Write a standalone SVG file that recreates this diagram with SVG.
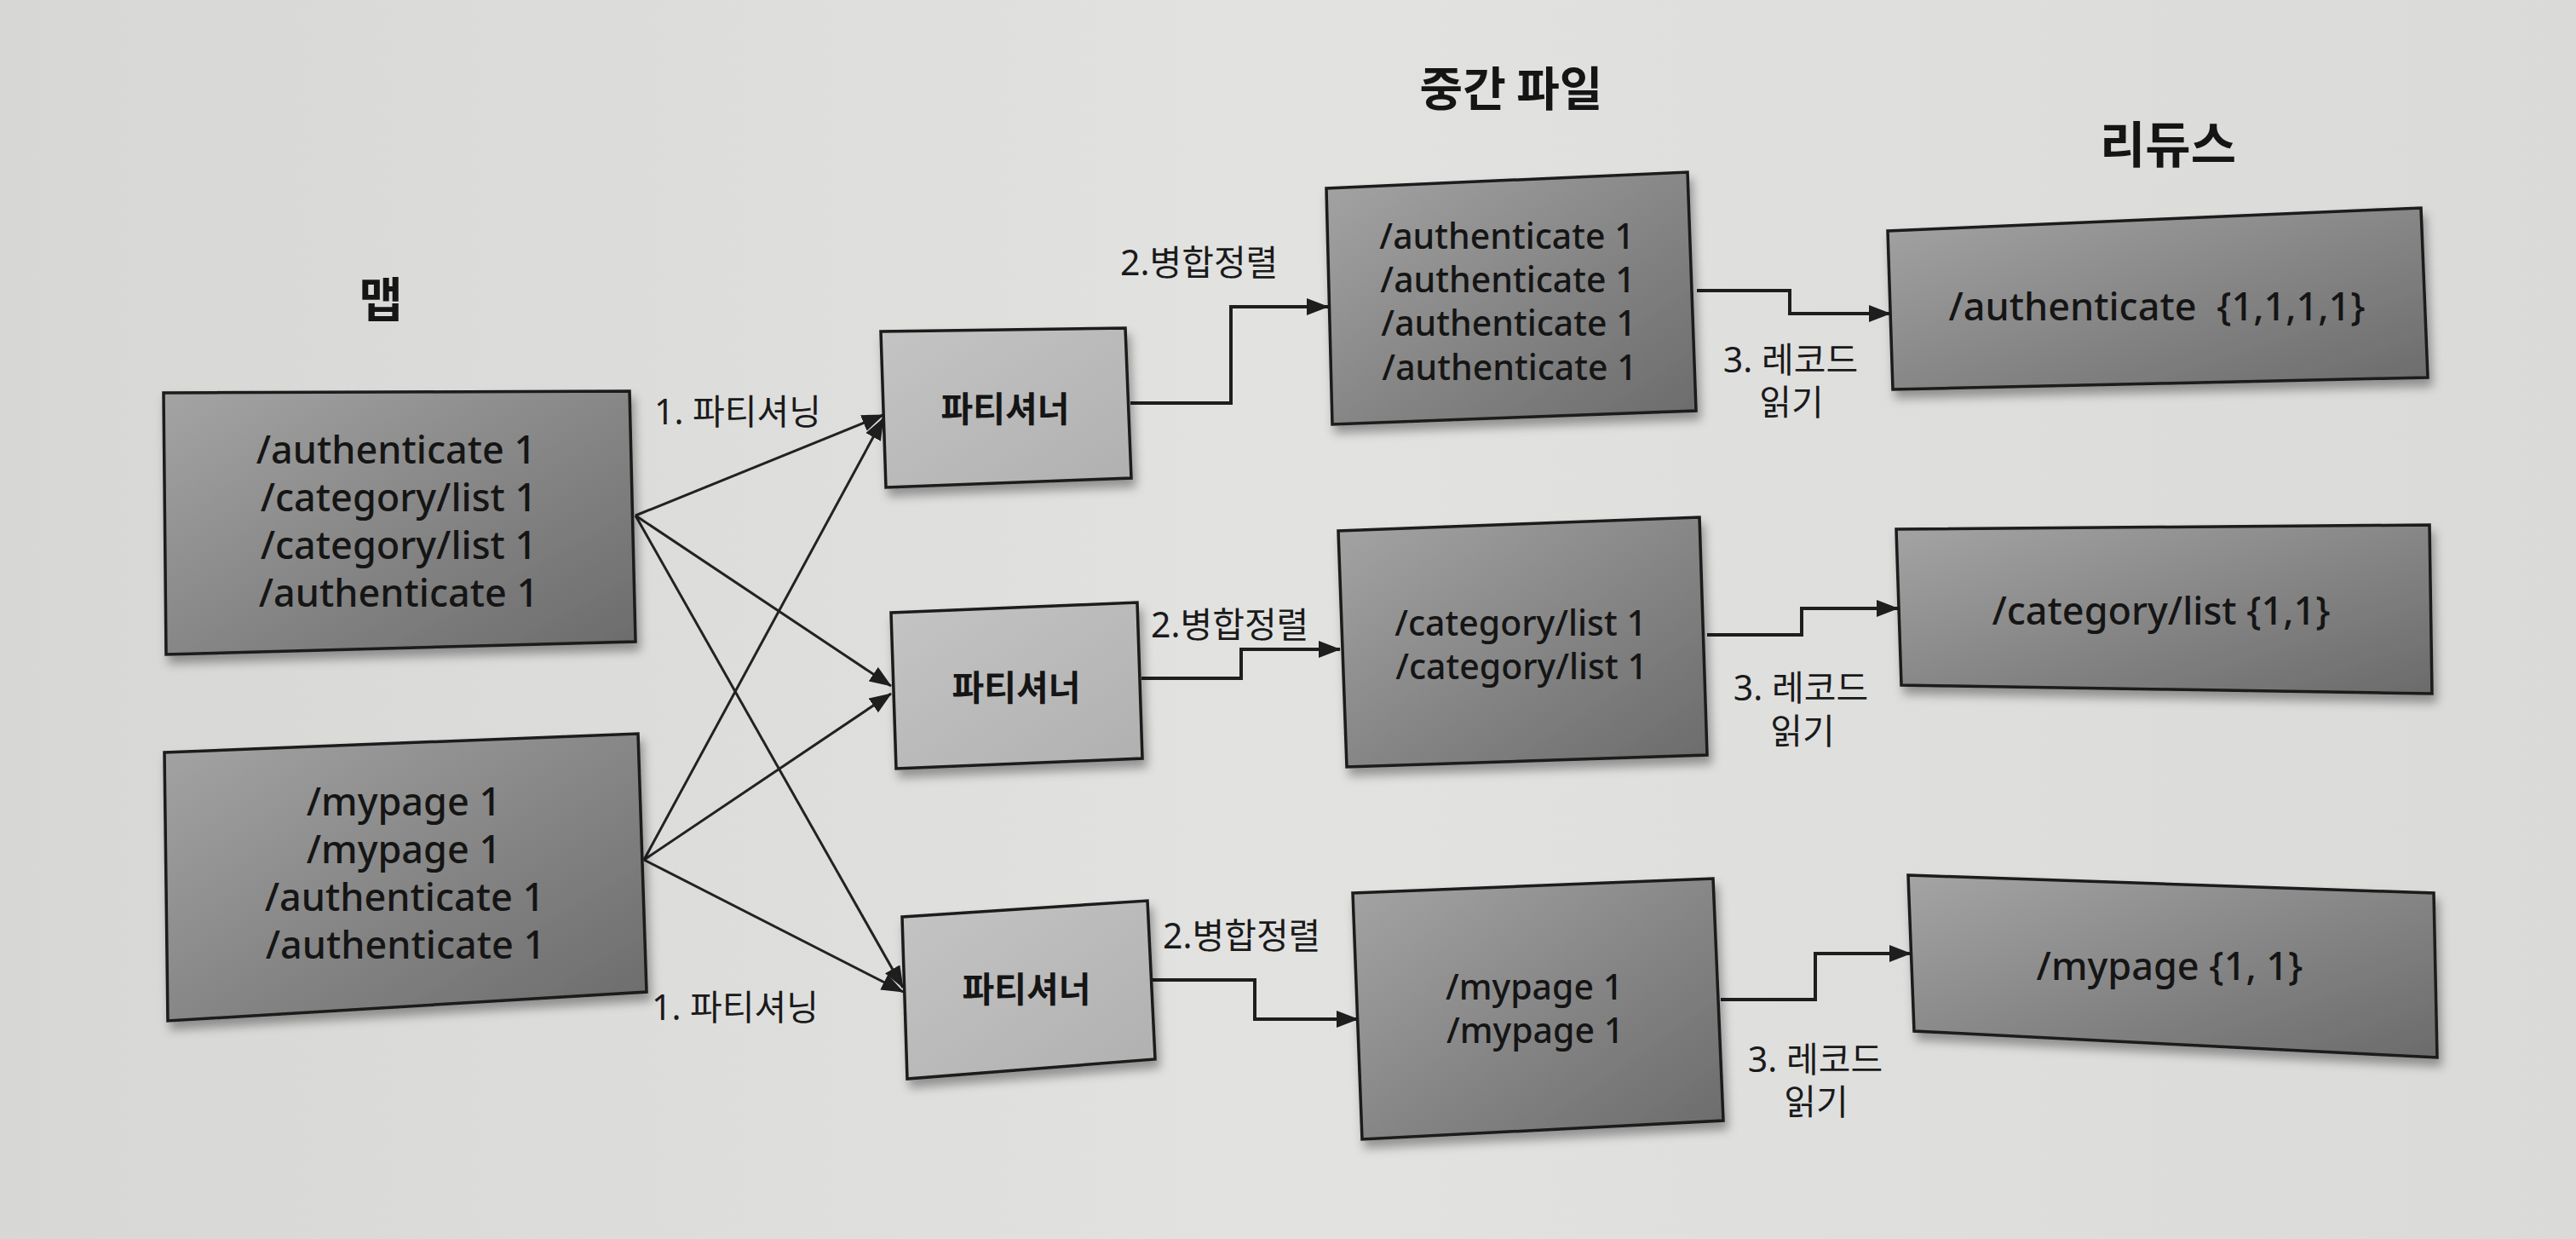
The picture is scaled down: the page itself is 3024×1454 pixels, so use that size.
<svg xmlns="http://www.w3.org/2000/svg" width="3024" height="1454" viewBox="0 0 3024 1454">
<defs>
  <linearGradient id="bg" x1="0" y1="0" x2="1" y2="0">
    <stop offset="0" stop-color="#d7d7d6"/>
    <stop offset="0.5" stop-color="#e2e2e1"/>
    <stop offset="1" stop-color="#dadad9"/>
  </linearGradient>
  <linearGradient id="dark" x1="0" y1="0" x2="1" y2="1">
    <stop offset="0" stop-color="#a4a4a4"/>
    <stop offset="0.55" stop-color="#848484"/>
    <stop offset="1" stop-color="#6b6b6b"/>
  </linearGradient>
  <linearGradient id="light" x1="0" y1="0" x2="1" y2="1">
    <stop offset="0" stop-color="#c4c4c4"/>
    <stop offset="1" stop-color="#b0b0b0"/>
  </linearGradient>
  <filter id="shadow" x="-10%" y="-10%" width="125%" height="130%">
    <feDropShadow dx="4" dy="9" stdDeviation="6" flood-color="#000" flood-opacity="0.35"/>
  </filter>
  <marker id="arrow" viewBox="0 0 26 20" refX="25" refY="10" markerWidth="26" markerHeight="20" markerUnits="userSpaceOnUse" orient="auto">
    <path d="M0,0 L26,10 L0,20 Z" fill="#1e1e1e"/>
  </marker>
  <style>
    .box { stroke: #1a1a1a; stroke-width: 3.5; stroke-linejoin: miter; filter: url(#shadow); }
    .dark { fill: url(#dark); }
    .light { fill: url(#light); }
    .txt { font-family: "Noto Sans", "Noto Sans CJK KR", sans-serif; font-weight: 500; fill: #151515; }
    .big { font-size: 45px; text-anchor: middle; }
    .mid { font-size: 41px; text-anchor: middle; }
    .red { font-size: 45px; text-anchor: middle; }
    .part { font-family: "Noto Sans CJK KR", sans-serif; font-weight: 700; font-size: 41px; text-anchor: middle; fill: #151515; }
    .title { font-family: "Noto Sans CJK KR", sans-serif; font-weight: 700; text-anchor: middle; fill: #151515; }
    .lbl { font-family: "Noto Sans", "Noto Sans CJK KR", sans-serif; font-size: 41px; fill: #1a1a1a; }
    .lblc { font-family: "Noto Sans", "Noto Sans CJK KR", sans-serif; font-size: 41px; fill: #1a1a1a; text-anchor: middle; }
    .ortho { fill: none; stroke: #1e1e1e; stroke-width: 4; marker-end: url(#arrow); }
    .cross { fill: none; stroke: #222; stroke-width: 3; marker-end: url(#arrow); }
  </style>
</defs>
<rect x="0" y="0" width="3024" height="1454" fill="url(#bg)"/>

<g id="titles">
  <text class="title" x="447" y="372" font-size="56">맵</text>
  <text class="title" x="1774" y="124" font-size="55">중간 파일</text>
  <text class="title" x="2545" y="191" font-size="58">리듀스</text>
</g>

<g id="connectors">
  <path class="cross" d="M746,605 L1037,487"/>
  <path class="cross" d="M746,605 L1046,805"/>
  <path class="cross" d="M746,605 L1060,1159"/>
  <path class="cross" d="M756,1009 L1037,491"/>
  <path class="cross" d="M756,1009 L1046,814"/>
  <path class="cross" d="M756,1009 L1060,1164"/>
  <path class="ortho" d="M1327,473 H1445 V360 H1559"/>
  <path class="ortho" d="M1340,796 H1457 V762 H1573"/>
  <path class="ortho" d="M1353,1150 H1473 V1196 H1594"/>
  <path class="ortho" d="M1992,341 H2101 V368 H2219"/>
  <path class="ortho" d="M2004,745 H2115 V714 H2228"/>
  <path class="ortho" d="M2020,1173 H2131 V1119 H2243"/>
  <text class="lbl" x="768" y="498">1. 파티셔닝</text>
  <text class="lbl" x="765" y="1197">1. 파티셔닝</text>
  <text class="lbl" x="1315" y="323">2.병합정렬</text>
  <text class="lbl" x="1351" y="748">2.병합정렬</text>
  <text class="lbl" x="1365" y="1113">2.병합정렬</text>
  <text class="lblc" x="2102" y="437">3. 레코드</text>
  <text class="lblc" x="2103" y="487">읽기</text>
  <text class="lblc" x="2114" y="822">3. 레코드</text>
  <text class="lblc" x="2116" y="873">읽기</text>
  <text class="lblc" x="2131" y="1258">3. 레코드</text>
  <text class="lblc" x="2132" y="1308">읽기</text>
</g>

<g id="map1">
  <polygon class="box dark" points="192,461 739,459 746,753 195,768"/>
  <text class="txt big" x="465" y="544">/authenticate 1</text>
  <text class="txt big" x="468" y="600">/category/list 1</text>
  <text class="txt big" x="468" y="656">/category/list 1</text>
  <text class="txt big" x="468" y="712">/authenticate 1</text>
</g>
<g id="map2">
  <polygon class="box dark" points="193,883 749,861 759,1164 197,1198"/>
  <text class="txt big" x="474" y="957">/mypage 1</text>
  <text class="txt big" x="474" y="1013">/mypage 1</text>
  <text class="txt big" x="475" y="1069">/authenticate 1</text>
  <text class="txt big" x="476" y="1125">/authenticate 1</text>
</g>

<g id="partitioner1">
  <polygon class="box light" points="1034,389 1321,385 1328,561 1040,572"/>
  <text class="part" x="1180" y="495">파티셔너</text>
</g>
<g id="partitioner2">
  <polygon class="box light" points="1046,719 1335,707 1341,890 1052,902"/>
  <text class="part" x="1193" y="822">파티셔너</text>
</g>
<g id="partitioner3">
  <polygon class="box light" points="1059,1076 1347,1057 1356,1243 1065,1266"/>
  <text class="part" x="1205" y="1176">파티셔너</text>
</g>

<g id="intermediate1">
  <polygon class="box dark" points="1557,221 1981,202 1991,482 1564,498"/>
  <text class="txt mid" x="1769" y="292">/authenticate 1</text>
  <text class="txt mid" x="1770" y="343">/authenticate 1</text>
  <text class="txt mid" x="1771" y="394">/authenticate 1</text>
  <text class="txt mid" x="1772" y="446">/authenticate 1</text>
</g>
<g id="intermediate2">
  <polygon class="box dark" points="1571,623 1995,607 2004,886 1581,900"/>
  <text class="txt mid" x="1785" y="746">/category/list 1</text>
  <text class="txt mid" x="1786" y="797">/category/list 1</text>
</g>
<g id="intermediate3">
  <polygon class="box dark" points="1588,1048 2011,1031 2023,1315 1599,1337"/>
  <text class="txt mid" x="1801" y="1173">/mypage 1</text>
  <text class="txt mid" x="1802" y="1224">/mypage 1</text>
</g>

<g id="reduce1">
  <polygon class="box dark" points="2216,271 2842,244 2850,443 2222,457"/>
  <text class="txt red" x="2532" y="376">/authenticate <tspan dx="12">{1,1,1,1}</tspan></text>
</g>
<g id="reduce2">
  <polygon class="box dark" points="2226,621 2852,616 2855,814 2232,804"/>
  <text class="txt red" x="2537" y="733">/category/list {1,1}</text>
</g>
<g id="reduce3">
  <polygon class="box dark" points="2240,1027 2857,1048 2861,1241 2247,1210"/>
  <text class="txt red" x="2547" y="1150">/mypage {1, 1}</text>
</g>
</svg>
